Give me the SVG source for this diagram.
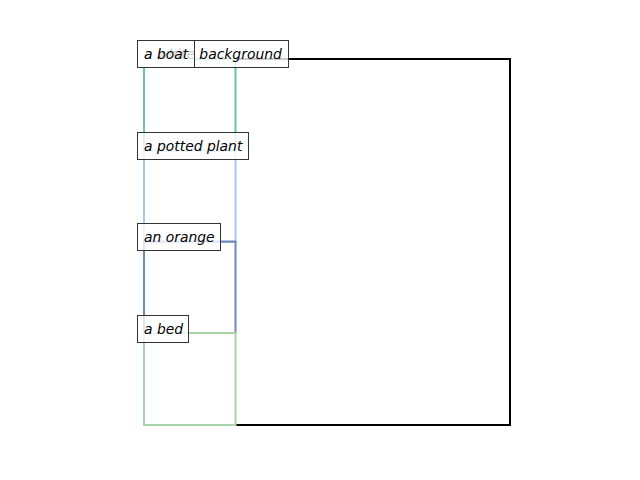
<svg xmlns="http://www.w3.org/2000/svg" width="640" height="480" viewBox="0 0 640 480">
<style>
.box{fill:none;stroke-width:2}
.lbl rect{fill:#fff;fill-opacity:0.8;stroke:#333;stroke-width:1}
.lbl text{font-family:"DejaVu Sans",sans-serif;font-style:italic;font-size:13.9px;fill:#000}
</style>
<rect width="640" height="480" fill="#fff"/>
<g id="connectors"></g>
<g id="boxes">
<rect id="bg-box" class="box" x="144" y="59" width="366" height="366" stroke="#000"/>
<rect id="boat-box" class="box" x="144" y="59" width="91.5" height="91.5" stroke="#6cc4a4"/>
<rect id="plant-box" class="box" x="144" y="150.5" width="91.5" height="91.5" stroke="#a6c8f2"/>
<rect id="orange-box" class="box" x="144" y="241.5" width="91.5" height="91.5" stroke="#6a88ba"/>
<rect id="bed-box" class="box" x="144" y="333" width="91.5" height="92" stroke="#a9d4a9"/>
</g>
<g id="node-bg" class="lbl"><rect x="137.5" y="40.5" width="151" height="27"/><text x="144" y="59">a white background</text></g>
<g id="node-boat" class="lbl"><rect x="137.5" y="40.5" width="57" height="27"/><text x="144" y="59">a boat</text></g>
<g id="node-plant" class="lbl"><rect x="137.5" y="132.5" width="111" height="27"/><text x="144" y="151">a potted plant</text></g>
<g id="node-orange" class="lbl"><rect x="137.5" y="223.5" width="83" height="27"/><text x="144" y="242">an orange</text></g>
<g id="node-bed" class="lbl"><rect x="137.5" y="315.5" width="51" height="27"/><text x="144" y="334">a bed</text></g>
</svg>
